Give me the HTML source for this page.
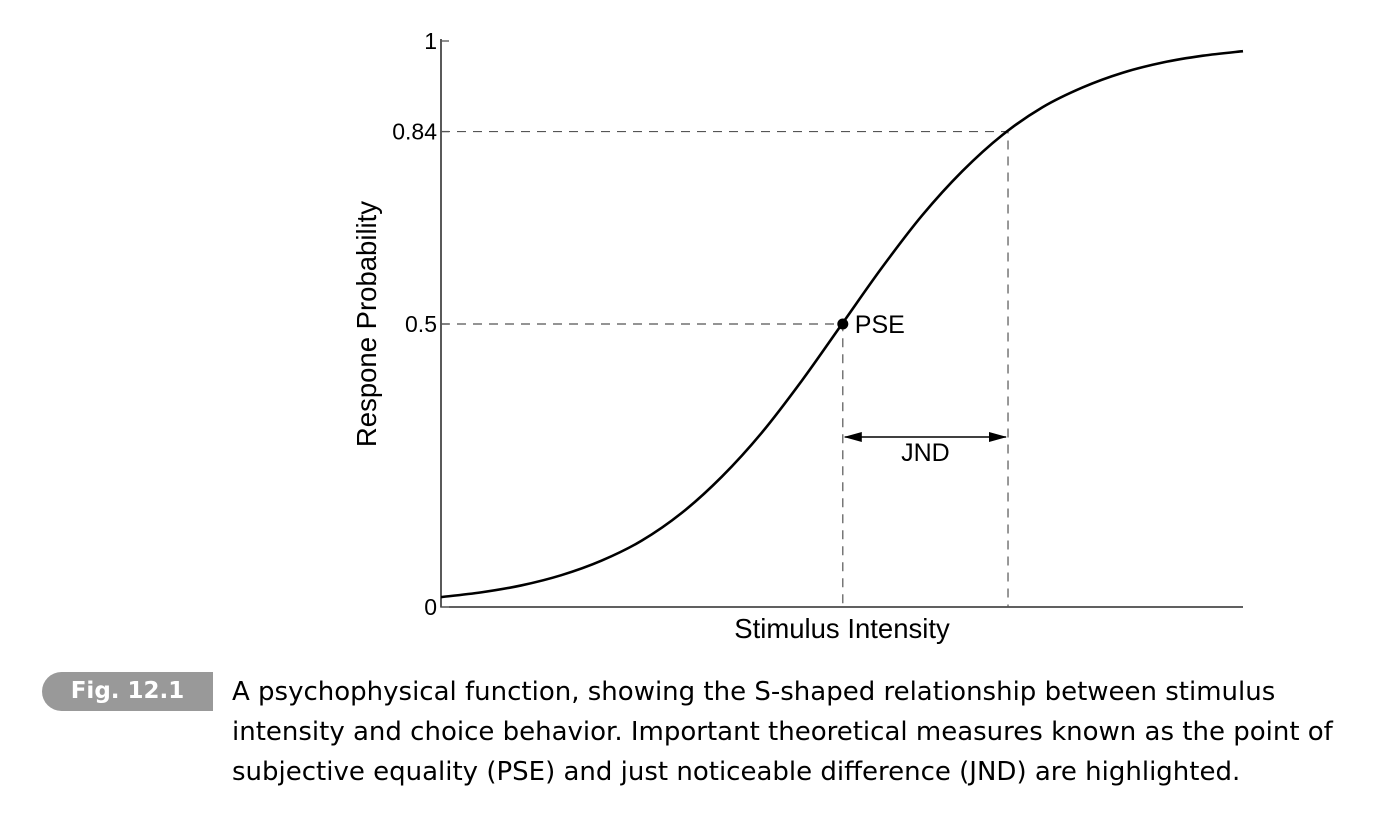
<!DOCTYPE html>
<html><head><meta charset="utf-8"><style>
html,body{margin:0;padding:0;background:#fff;width:1398px;height:826px;overflow:hidden}
svg{display:block}
.t{font-family:"Liberation Sans",sans-serif;fill:#000}
.cap{position:absolute;left:232px;top:672px;white-space:nowrap;font-family:"DejaVu Sans","Liberation Sans",sans-serif;font-size:26px;line-height:40px;color:#000}
.pill{position:absolute;left:42px;top:672px;width:171px;height:39px;background:#999;border-radius:20px 0 0 20px;color:#fff;font-family:"DejaVu Sans","Liberation Sans",sans-serif;font-weight:bold;font-size:23px;line-height:39px;text-align:center}
</style></head><body>
<svg id="chart" width="1398" height="826"></svg>
<div class="pill">Fig. 12.1</div>
<div class="cap">A psychophysical function, showing the S-shaped relationship between stimulus<br>intensity and choice behavior. Important theoretical measures known as the point of<br>subjective equality (PSE) and just noticeable difference (JND) are highlighted.</div>
<script>
const stimulus = [0,5,10,15,20,25,30,35,40,45,50,55,60,65,70,75,80,85,90,95,100];
const probability = [0.0175,0.0258,0.0381,0.0562,0.0818,0.117,0.166,0.230,0.308,0.400,0.5,0.600,0.692,0.770,0.834,0.883,0.918,0.944,0.962,0.974,0.982];
const yTicks = [0,0.5,0.84,1];
const yTickLabels = ["0","0.5","0.84","1"];
const pse = [50.1,0.5];
const jnd = [70.7,0.84];

const NS="http://www.w3.org/2000/svg";
const svg=document.getElementById('chart');
const X0=441,X1=1243,Y0=607,Y1=41;
const sx=v=>X0+(v-0)/(100-0)*(X1-X0);
const sy=v=>Y0-v*(Y0-Y1);
function mk(tag,attrs){const e=document.createElementNS(NS,tag);for(const k in attrs)e.setAttribute(k,attrs[k]);svg.appendChild(e);return e;}

let ax=mk('path',{d:`M${X0},${Y1-2}V${Y0}H${X1}`,fill:'none',stroke:'#000','stroke-width':1.3});


yTicks.forEach((v,i)=>{
  let tk=mk('line',{x1:X0,x2:X0+8,y1:sy(v),y2:sy(v),stroke:'#555','stroke-width':1.3});
  
  
  let tl=mk('text',{x:X0-4,y:sy(v)+8,'text-anchor':'end','font-size':23,class:'t'});
  tl.textContent=yTickLabels[i];
  
  
});
function dash(d,name){let e=mk('path',{d,fill:'none',stroke:'#555','stroke-width':1.2,'stroke-dasharray':'9,7'});

}
dash(`M${X0},${sy(pse[1])}H${sx(pse[0])}V${Y0}`,'pse-guide');
dash(`M${X0},${sy(jnd[1])}H${sx(jnd[0])}V${Y0}`,'jnd-guide');
const pts=stimulus.map((s,i)=>[sx(s),sy(probability[i])]);
let d=`M${pts[0][0]},${pts[0][1]}`;
for(let i=0;i<pts.length-1;i++){
  const p0=pts[Math.max(0,i-1)],p1=pts[i],p2=pts[i+1],p3=pts[Math.min(pts.length-1,i+2)];
  d+=`C${p1[0]+(p2[0]-p0[0])/6},${p1[1]+(p2[1]-p0[1])/6} ${p2[0]-(p3[0]-p1[0])/6},${p2[1]-(p3[1]-p1[1])/6} ${p2[0]},${p2[1]}`;
}
let cv=mk('path',{d,fill:'none',stroke:'#000','stroke-width':2.6});


let dot=mk('circle',{cx:sx(pse[0]),cy:sy(pse[1]),r:5.5,fill:'#000'});


let pl=mk('text',{x:sx(pse[0])+12,y:sy(pse[1])+9,'font-size':25,class:'t'});
pl.textContent='PSE';


const ay=437,ax1=sx(pse[0]),ax2=sx(jnd[0]);
let ar=mk('path',{d:`M${ax1+2},${ay}H${ax2-2}`,stroke:'#000','stroke-width':1.5});


let h1=mk('path',{d:`M${ax1+1},${ay}l18,-5v10z`,fill:'#000'});


let h2=mk('path',{d:`M${ax2-1},${ay}l-18,-5v10z`,fill:'#000'});


let jl=mk('text',{x:(ax1+ax2)/2,y:ay+24,'text-anchor':'middle','font-size':25,class:'t'});
jl.textContent='JND';


let xt=mk('text',{x:842,y:638,'text-anchor':'middle','font-size':27.5,class:'t'});
xt.textContent='Stimulus Intensity';


let yt=mk('text',{x:0,y:0,'text-anchor':'middle','font-size':27.5,class:'t',transform:`translate(376,324) rotate(-90)`});
yt.textContent='Respone Probability';


</script>
</body></html>
